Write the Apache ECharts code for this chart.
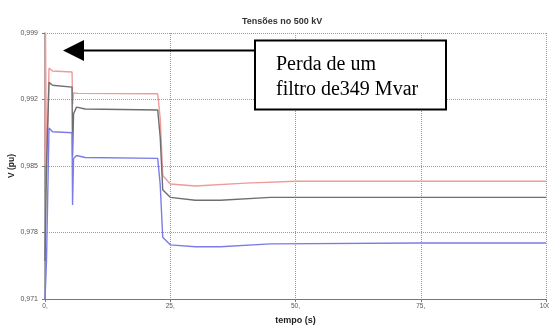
<!DOCTYPE html>
<html>
<head>
<meta charset="utf-8">
<script src="https://cdn.jsdelivr.net/npm/echarts@6/dist/echarts.min.js"></script>
<style>
html,body{margin:0;padding:0;background:#fff;}
#chart{width:549px;height:327px;}
</style>
</head>
<body>
<div id="chart"></div>
<script>
// ---- data ----
var title = 'Tensões no 500 kV';
var xName = 'tempo (s)';
var yName = 'V (pu)';
var xTicks = [0, 25, 50, 75, 100];
var yTicks = [0.971, 0.978, 0.985, 0.992, 0.999];
var annotationText = ['Perda de um', 'filtro de349 Mvar'];

var pinkSeries = [
  [0, 0.985], [0.1, 0.999], [0.3, 0.984], [0.8, 0.9953], [1.5, 0.9950], [5.4, 0.9949],
  [5.5, 0.9915], [5.7, 0.9927], [6.5, 0.99265], [22.5, 0.9926], [23.0, 0.9900], [23.5, 0.9840],
  [25, 0.9831], [30, 0.9829], [40, 0.9832], [50, 0.9834], [75, 0.9834], [100, 0.9834]
];
var graySeries = [
  [0, 0.975], [0.3, 0.985], [0.8, 0.9938], [1.5, 0.9935], [5.4, 0.9933],
  [5.5, 0.9860], [5.7, 0.9905], [6.3, 0.9912], [8, 0.9910], [22.5, 0.9909], [23.0, 0.9880], [23.5, 0.9825],
  [25, 0.9817], [30, 0.9814], [35, 0.9814], [45, 0.9817], [75, 0.9817], [100, 0.9817]
];
var blueSeries = [
  [0, 0.971], [0.3, 0.975], [0.8, 0.9890], [1.5, 0.9886], [5.4, 0.9885],
  [5.5, 0.9809], [5.7, 0.9858], [6.3, 0.9861], [8, 0.9859], [22.5, 0.9858], [23.0, 0.9830], [23.5, 0.9775],
  [25, 0.9767], [30, 0.9765], [35, 0.9765], [45, 0.9768], [75, 0.9769], [100, 0.9769]
];

var chart = echarts.init(document.getElementById('chart'), null, {renderer: 'canvas'});

function lineSeries(data, color) {
  return {
    type: 'line', data: data, showSymbol: false, symbol: 'none',
    lineStyle: {color: color, width: 1.4}, animation: false, clip: true
  };
}

chart.setOption({
  backgroundColor: '#fff',
  animation: false,
  title: {
    text: title, left: 237, top: 12,
    textStyle: {fontFamily: 'Liberation Sans', fontSize: 9, fontWeight: 'bold', color: '#333'}
  },
  grid: {left: 45, right: 3, top: 33, bottom: 28, containLabel: false, outerBoundsMode: 'none'},
  xAxis: {
    type: 'value', min: 0, max: 100, interval: 25,
    name: xName, nameLocation: 'middle', nameGap: 17, nameMoveOverlap: false,
    nameTextStyle: {fontFamily: 'Liberation Sans', fontSize: 9, fontWeight: 'bold', color: '#222'},
    axisLine: {lineStyle: {color: '#777', width: 1}},
    axisTick: {show: true, length: 3, lineStyle: {color: '#777'}},
    axisLabel: {
      fontFamily: 'Liberation Sans', fontSize: 6.5, color: '#555', margin: 4,
      formatter: function (v) { return v + ','; }
    },
    splitLine: {show: true, lineStyle: {color: '#999', type: 'dotted', width: 1}}
  },
  yAxis: {
    type: 'value', min: 0.971, max: 0.999, interval: 0.007,
    name: yName, nameLocation: 'middle', nameGap: 29, nameRotate: 90, nameMoveOverlap: false,
    nameTextStyle: {fontFamily: 'Liberation Sans', fontSize: 8.5, fontWeight: 'bold', color: '#222'},
    axisLine: {show: true, lineStyle: {color: '#888', width: 1.5}},
    axisTick: {show: true, length: 3, lineStyle: {color: '#777'}},
    minorTick: {show: false},
    axisLabel: {
      fontFamily: 'Liberation Sans', fontSize: 7, color: '#555', margin: 7,
      formatter: function (v) { return v.toFixed(3).replace('.', ','); }
    },
    splitLine: {show: true, lineStyle: {color: '#999', type: 'dotted', width: 1}}
  },
  series: [
    lineSeries(pinkSeries, '#f09a9a'),
    lineSeries(graySeries, '#6e6e6e'),
    lineSeries(blueSeries, '#7c7ce8')
  ],
  graphic: [
    {type: 'line', shape: {x1: 80, y1: 50.5, x2: 255, y2: 50.5}, style: {stroke: '#000', lineWidth: 2}, z: 100},
    {type: 'polygon', shape: {points: [[63, 50.5], [84, 40], [84, 61]]}, style: {fill: '#000'}, z: 100},
    {type: 'rect', shape: {x: 255, y: 40.5, width: 191, height: 69}, style: {fill: '#fff', stroke: '#000', lineWidth: 2}, z: 100},
    {type: 'text', left: 276, top: 55, style: {text: annotationText[0], font: '20px "Liberation Serif"', fill: '#000'}, z: 101},
    {type: 'text', left: 276, top: 80, style: {text: annotationText[1], font: '20px "Liberation Serif"', fill: '#000'}, z: 101}
  ]
});
</script>
</body>
</html>
